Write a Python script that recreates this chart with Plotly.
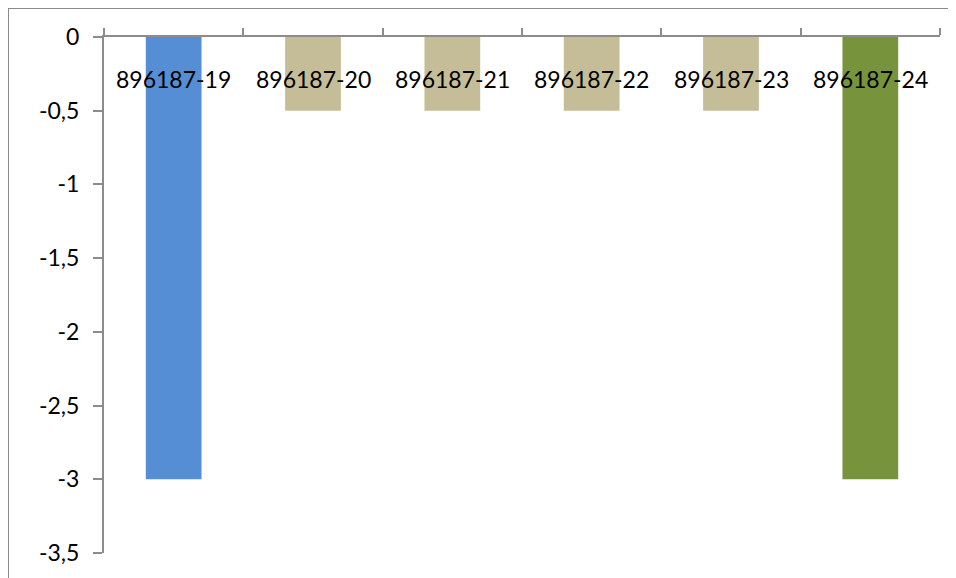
import plotly.graph_objects as go

categories = ["896187-19", "896187-20", "896187-21", "896187-22", "896187-23", "896187-24"]
values = [-3, -0.5, -0.5, -0.5, -0.5, -3]
bar_colors = ["#558ED5", "#C4BD97", "#C4BD97", "#C4BD97", "#C4BD97", "#77933C"]
y_tickvals = [0, -0.5, -1, -1.5, -2, -2.5, -3, -3.5]
y_ticktext = ["0", "-0,5", "-1", "-1,5", "-2", "-2,5", "-3", "-3,5"]

# the page body adds an 8px offset, so the figure is sized to fit the window
W, H = 948, 570
L, R, T, B = 96, 16, 29, 25
pw, ph = W - L - R, H - T - B

fig = go.Figure(go.Bar(x=categories, y=values, marker=dict(color=bar_colors, line=dict(width=0))))

axis_col = "#8C8C8C"
font = dict(family="Lato, Noto Sans, sans-serif", size=23, color="black")

fig.update_layout(
    width=W, height=H,
    margin=dict(l=L, r=R, t=T, b=B, autoexpand=False),
    paper_bgcolor="white", plot_bgcolor="white",
    bargap=0.6, showlegend=False,
    font=font,
)
fig.update_xaxes(
    side="top", type="category", tickson="boundaries",
    ticks="outside", ticklen=7, tickwidth=2, tickcolor=axis_col,
    showline=True, linecolor=axis_col, linewidth=2,
    showticklabels=False, automargin=False,
    showgrid=False, zeroline=False,
)
fig.update_yaxes(
    range=[-3.5, 0], tickvals=y_tickvals, ticktext=y_ticktext,
    ticks="outside", ticklen=9, tickwidth=2, tickcolor=axis_col,
    showline=True, linecolor=axis_col, linewidth=2,
    ticklabelstandoff=9, automargin=False,
    showgrid=False, zeroline=False, tickfont=font,
)

# category labels sit just below the axis line at 0
for c in categories:
    fig.add_annotation(x=c, y=0, xref="x", yref="y", text=c, showarrow=False,
                       yanchor="middle", xanchor="center", yshift=-42, font=font)

def px_x(px):
    return (px - L) / pw
def px_y(py):
    return (H - B - py) / ph

border = dict(color="#8A8A8A", width=2)
fig.add_shape(type="line", xref="paper", yref="paper",
              x0=px_x(0), x1=px_x(W + 5), y0=px_y(0), y1=px_y(0), line=border)
fig.add_shape(type="line", xref="paper", yref="paper",
              x0=px_x(0), x1=px_x(0), y0=px_y(0), y1=px_y(H + 5), line=border)

fig.write_html("out.html")
